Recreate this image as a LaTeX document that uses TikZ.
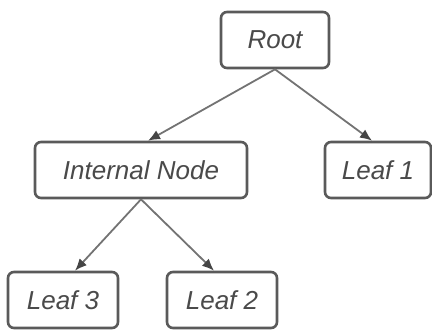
\documentclass[tikz,border=0pt]{standalone}
\usepackage{fontspec}
\setsansfont{Liberation Sans}
\usetikzlibrary{arrows.meta}

\definecolor{boxgray}{HTML}{5A5A5A}
\definecolor{linegray}{HTML}{737373}
\definecolor{tipgray}{HTML}{454545}
\definecolor{textgray}{HTML}{4A4A4A}

\tikzset{
  treebox/.style={draw=boxgray, line width=1.3pt, rounded corners=3pt, fill=white,
    minimum height=28pt, inner sep=2pt, text=textgray,
    font=\sffamily\itshape\fontsize{13}{15}\selectfont},
  treeedge/.style={linegray, line width=0.9pt, ->, >={Latex[length=6pt, width=5pt, fill=tipgray, color=tipgray]}}
}

\begin{document}
\begin{tikzpicture}[x=0.5pt, y=-0.5pt]

\useasboundingbox (0, 0) rectangle (432, 329);

\node[treebox, minimum width=54pt] (root) at (275, 40) {Root};

\node[treebox, minimum width=106pt] (internal) at (141, 170) {Internal Node};

\node[treebox, minimum width=53pt] (leafone) at (378, 170) {Leaf 1};

\node[treebox, minimum width=55pt] (leafthree) at (63, 300) {Leaf 3};

\node[treebox, minimum width=55pt] (leaftwo) at (222, 300) {Leaf 2};

\draw[treeedge] (root.south) -- ([xshift=3.5pt]internal.north);

\draw[treeedge] (root.south) -- ([xshift=-3pt]leafone.north);

\draw[treeedge] (internal.south) -- ([xshift=6pt]leafthree.north);

\draw[treeedge] (internal.south) -- ([xshift=-4pt]leaftwo.north);

\end{tikzpicture}
\end{document}
